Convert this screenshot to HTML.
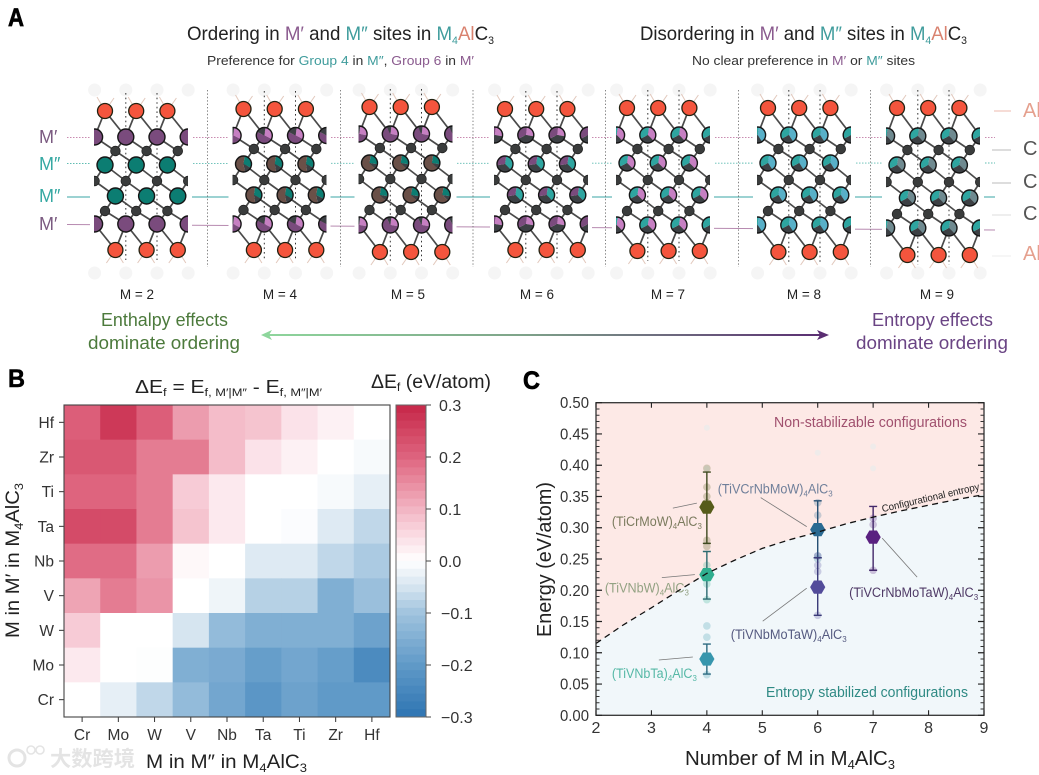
<!DOCTYPE html>
<html><head><meta charset="utf-8"><title>M4AlC3 ordering figure</title>
<style>
html,body{margin:0;padding:0;background:#fff}
svg{display:block}
text{font-family:"Liberation Sans","Noto Sans CJK SC",sans-serif}
</style></head>
<body>
<svg id="fig" xmlns="http://www.w3.org/2000/svg" width="1039" height="775" viewBox="0 0 1039 775">
<defs>
<linearGradient id="arrowGrad" x1="0" x2="1" y1="0" y2="0"><stop offset="0" stop-color="#8ed69c"/><stop offset="0.45" stop-color="#7fa58a"/><stop offset="1" stop-color="#5a2d72"/></linearGradient>
</defs>

<g id="panelA">
<text x="8" y="26" font-size="25" font-weight="bold" fill="#000" stroke="#000" stroke-width="0.7" textLength="16">A</text>
<text x="187" y="40" font-size="19.5" fill="#222" textLength="307">Ordering in <tspan fill="#8a5a8e">M′</tspan> and <tspan fill="#3f9c9c">M″</tspan> sites in <tspan fill="#3f9c9c">M</tspan><tspan fill="#3f9c9c" font-size="11" dy="4">4</tspan><tspan fill="#d9826f" dy="-4">Al</tspan>C<tspan font-size="11" dy="4">3</tspan></text>
<text x="207" y="65" font-size="13" fill="#333" textLength="267">Preference for <tspan fill="#3f9c9c">Group 4</tspan> in <tspan fill="#3f9c9c">M″</tspan>, <tspan fill="#8a5a8e">Group 6</tspan> in <tspan fill="#8a5a8e">M′</tspan></text>
<text x="640" y="40" font-size="19.5" fill="#222" textLength="327">Disordering in <tspan fill="#8a5a8e">M′</tspan> and <tspan fill="#3f9c9c">M″</tspan> sites in <tspan fill="#3f9c9c">M</tspan><tspan fill="#3f9c9c" font-size="11" dy="4">4</tspan><tspan fill="#d9826f" dy="-4">Al</tspan>C<tspan font-size="11" dy="4">3</tspan></text>
<text x="692" y="65" font-size="13" fill="#333" textLength="223">No clear preference in <tspan fill="#8a5a8e">M′</tspan> or <tspan fill="#3f9c9c">M″</tspan> sites</text>

<g>
<line x1="67" x2="995" y1="137.5" y2="137.5" stroke="#c98bb0" stroke-width="0.9" stroke-dasharray="1.5 1.5"/>
<line x1="67" x2="995" y1="163.5" y2="163" stroke="#5fbcb2" stroke-width="0.9" stroke-dasharray="1.5 1.5"/>
<line x1="67" x2="995" y1="197" y2="197" stroke="#3aa5a5" stroke-width="1"/>
<line x1="67" x2="995" y1="224.5" y2="230" stroke="#b78ab0" stroke-width="1"/>
</g>
<g id="crystals"></g>
<g stroke="#777" stroke-width="0.9" stroke-dasharray="1.4 2">
<line x1="207.5" x2="207.5" y1="90" y2="267"/>
<line x1="340.5" x2="340.5" y1="90" y2="267"/>
<line x1="473" x2="473" y1="90" y2="267"/>
<line x1="605.5" x2="605.5" y1="90" y2="267"/>
<line x1="738.5" x2="738.5" y1="90" y2="267"/>
<line x1="870.5" x2="870.5" y1="90" y2="267"/>
</g>
<g font-size="18">
<text x="39" y="143" fill="#7a5a80">M′</text>
<text x="39" y="170" fill="#35a8a2">M″</text>
<text x="39" y="202" fill="#35a8a2">M″</text>
<text x="39" y="230" fill="#7a5a80">M′</text>
</g>
<g font-size="20">
<line x1="994" x2="1011" y1="111" y2="111" stroke="#eeb9ac"/>
<line x1="992" x2="1011" y1="150" y2="150" stroke="#bbb"/>
<line x1="992" x2="1011" y1="183" y2="183" stroke="#bbb"/>
<line x1="992" x2="1011" y1="215" y2="215" stroke="#ddd"/>
<line x1="992" x2="1011" y1="256" y2="256" stroke="#eee"/>
<text x="1023" y="117" fill="#e5a08e">Al</text>
<text x="1023" y="155" fill="#555">C</text>
<text x="1023" y="188" fill="#555">C</text>
<text x="1023" y="220" fill="#555">C</text>
<text x="1023" y="260" fill="#e5a08e">Al</text>
</g>
<g font-size="13.5" fill="#222" text-anchor="middle">
<text x="137" y="299">M = 2</text>
<text x="280" y="299">M = 4</text>
<text x="408" y="299">M = 5</text>
<text x="537" y="299">M = 6</text>
<text x="668" y="299">M = 7</text>
<text x="804" y="299">M = 8</text>
<text x="937" y="299">M = 9</text>
</g>
<text x="101" y="326" font-size="18.5" fill="#4c7a3c" textLength="127">Enthalpy effects</text>
<text x="88" y="349" font-size="18.5" fill="#4c7a3c" textLength="152">dominate ordering</text>
<text x="872" y="326" font-size="18.5" fill="#6a4484" textLength="121">Entropy effects</text>
<text x="856" y="349" font-size="18.5" fill="#6a4484" textLength="152">dominate ordering</text>
<rect x="264" y="334" width="560" height="2" fill="url(#arrowGrad)"/>
<path d="M261 335 L272 330 L269 335 L272 340Z" fill="#8ed69c"/>
<path d="M829 335 L817 330 L820 335 L817 340Z" fill="#5a2d72"/>
</g>

<g id="panelB">
<text x="8" y="387" font-size="25" font-weight="bold" fill="#000" stroke="#000" stroke-width="0.5" textLength="17">B</text>
<text x="135" y="393" font-size="18" fill="#222" textLength="187">ΔE<tspan font-size="11" dy="3">f</tspan><tspan dy="-3"> = E</tspan><tspan font-size="11" dy="3">f, M′|M″</tspan><tspan dy="-3"> - E</tspan><tspan font-size="11" dy="3">f, M″|M′</tspan></text>
<text x="371" y="388" font-size="19" fill="#222" textLength="120">ΔE<tspan font-size="12" dy="3">f</tspan><tspan dy="-3"> (eV/atom)</tspan></text>
<g id="heatmap"></g>
<g id="colorbar"></g>
<text x="146" y="768" font-size="19" fill="#222" textLength="161">M in M″ in M<tspan font-size="12" dy="4">4</tspan><tspan dy="-4">AlC</tspan><tspan font-size="12" dy="4">3</tspan></text>
<text transform="translate(19,638) rotate(-90)" font-size="19" fill="#222" textLength="155">M in M′ in M<tspan font-size="12" dy="4">4</tspan><tspan dy="-4">AlC</tspan><tspan font-size="12" dy="4">3</tspan></text>
</g>

<g id="panelC">
<text x="523" y="389" font-size="25" font-weight="bold" fill="#000" stroke="#000" stroke-width="0.7" textLength="17">C</text>
<g id="stability"></g>
<text x="685" y="765" font-size="20.5" fill="#222" textLength="210">Number of M in M<tspan font-size="13" dy="4">4</tspan><tspan dy="-4">AlC</tspan><tspan font-size="13" dy="4">3</tspan></text>
<text transform="translate(551,637) rotate(-90)" font-size="20.5" fill="#222" textLength="155">Energy (eV/atom)</text>
</g>

<g opacity="0.9">
<circle cx="17" cy="758" r="8" fill="none" stroke="#e2e2e2" stroke-width="3"/>
<circle cx="31" cy="750" r="4" fill="none" stroke="#e2e2e2" stroke-width="1.6"/>
<circle cx="40" cy="750" r="4" fill="none" stroke="#e2e2e2" stroke-width="1.6"/>
<text x="50" y="766" font-size="21" font-weight="bold" fill="#e2e2e2" textLength="85">大数跨境</text>
</g>
</svg>
<script>
var NS='http://www.w3.org/2000/svg';
function mk(tag,attrs,parent,txt){var e=document.createElementNS(NS,tag);for(var k in attrs)e.setAttribute(k,attrs[k]);if(txt!==undefined)e.textContent=txt;parent.appendChild(e);return e;}

/* ---------- Panel B data ---------- */
const heatColumns=['Cr','Mo','W','V','Nb','Ta','Ti','Zr','Hf'];
const heatRows=['Hf','Zr','Ti','Ta','Nb','V','W','Mo','Cr'];
const heatValues=[
[ .21, .27, .21, .13, .09, .08, .04, .02, 0],
[ .22, .22, .17, .17, .09, .04, .02, 0, -.01],
[ .20, .20, .17, .07, .03, 0, 0, -.01, -.03],
[ .24, .24, .17, .08, .03, 0, -.005, -.04, -.07],
[ .19, .19, .13, .01, 0, -.04, -.04, -.07, -.09],
[ .12, .17, .14, 0, -.02, -.08, -.08, -.15, -.11],
[ .07, 0, 0, -.05, -.12, -.15, -.15, -.15, -.18],
[ .03, 0, -.002, -.15, -.16, -.19, -.17, -.19, -.24],
[ 0, -.03, -.07, -.12, -.17, -.21, -.18, -.20, -.20]
];
const colorbarTicks=[0.3,0.2,0.1,0,-0.1,-0.2,-0.3];
const colorbarTickLabels=['0.3','0.2','0.1','0.0','−0.1','−0.2','−0.3'];

/* ---------- Panel C data ---------- */
const curveN=[2,2.5,3,3.5,4,4.5,5,5.5,6,6.5,7,7.5,8,8.5,9];
const curveEnergy=[.115,.145,.172,.2,.227,.248,.267,.281,.293,.306,.317,.327,.336,.345,.353];
const seriesNames=['(TiCrMoW)','(TiVNbW)','(TiVNbTa)','(TiVCrNbMoW)','(TiVNbMoTaW)','(TiVCrNbMoTaW)'];
const seriesCount=[4,4,4,6,6,7];
const seriesMean=[.333,.225,.09,.297,.205,.285];
const seriesLow=[.275,.186,.066,.252,.16,.232];
const seriesHigh=[.389,.262,.114,.343,.252,.334];
const seriesScatter=[[.395,.365,.35,.34,.28,.27],[.24,.21,.185],[.143,.125,.065],[.34,.32,.255,.25],[.255,.24,.23,.16],[.315,.305,.232]];
const faintCount=[4,4,7,7,6];
const faintEnergy=[.46,.395,.43,.395,.42];
const xTickValues=[2,3,4,5,6,7,8,9];
const yTickLabels=['0.00','0.05','0.10','0.15','0.20','0.25','0.30','0.35','0.40','0.45','0.50'];

/* ---------- Styling / layout (not data) ---------- */
const seriesColors=['#565c1a','#2fae8f','#3796ad','#2a6a92','#534c9a','#5a2080'];
const seriesBarColors=['#3f4a20','#2c6a70','#2c6a80','#244e72','#3a3a78','#43286a'];
const seriesTextColors=['#7b7b5e','#93a283','#55b8a6','#6f7f9a','#555a80','#4f3a66'];
const labelLayout=[
{dx:-95,dy:19,w:90,l:[-34,1,-10,-4]},
{dx:-102,dy:18,w:84,l:[-45,3,-12,0]},
{dx:-95,dy:19,w:85,l:[-48,1,-14,-2]},
{dx:-100,dy:-36,w:115,l:[-57,-32,-11,-3]},
{dx:-87,dy:52,w:116,l:[-55,34,-11,1]},
{dx:-24,dy:60,w:129,l:[9,1,44,40]}];

/* ---------- Heatmap ---------- */
(function(){
var g=document.getElementById('heatmap'),cb=document.getElementById('colorbar');
var L=64,R=390,T=405,B=717;
var cw=(R-L)/heatColumns.length,ch=(B-T)/heatRows.length;
function xBand(i){return L+i*cw;}
function yBand(j){return T+j*ch;}
var stops=[[-.3,[46,116,178]],[-.2,[96,154,200]],[-.1,[160,195,222]],[-.05,[214,229,240]],[0,[255,255,255]],[.05,[250,219,227]],[.1,[242,180,194]],[.2,[222,100,126]],[.3,[198,38,72]]];
function color(v){v=Math.max(-.3,Math.min(.3,v));for(var i=0;i<stops.length-1;i++){var a=stops[i],b=stops[i+1];if(v<=b[0]){var t=(v-a[0])/(b[0]-a[0]);return 'rgb('+[0,1,2].map(function(c){return Math.round(a[1][c]+t*(b[1][c]-a[1][c]));}).join(',')+')';}}return 'rgb(198,38,72)';}
heatRows.forEach(function(r,j){
  heatColumns.forEach(function(c,i){
    var cell=mk('rect',{x:xBand(i),y:yBand(j),width:cw+0.4,height:ch+0.4,fill:color(heatValues[j][i])},g);
    
    
  });
  var tk=mk('line',{x1:L-5,x2:L,y1:yBand(j)+ch/2,y2:yBand(j)+ch/2,stroke:'#333','stroke-width':1},g);
  
  
  var tl=mk('text',{x:54,y:yBand(j)+ch/2+5.5,'text-anchor':'end','font-size':15.5,fill:'#333'},g,r);
  
  
});
heatColumns.forEach(function(c,i){
  var tk=mk('line',{x1:xBand(i)+cw/2,x2:xBand(i)+cw/2,y1:B,y2:B+5,stroke:'#333','stroke-width':1},g);
  
  
  var tl=mk('text',{x:xBand(i)+cw/2,y:740,'text-anchor':'middle','font-size':15.5,fill:'#333'},g,c);
  
  
});
var frame=mk('rect',{x:L,y:T,width:R-L,height:B-T,fill:'none',stroke:'#444','stroke-width':1.1},g);


var cL=396,cR=426,n=40;
function yCb(v){return T+(0.3-v)/0.6*(B-T);}
for(var k=0;k<n;k++){
  var v=0.3-(k+0.5)*0.6/n;
  var s=mk('rect',{x:cL,y:T+k*(B-T)/n,width:cR-cL,height:(B-T)/n+0.4,fill:color(v)},cb);
  
  
}
var cf=mk('rect',{x:cL,y:T,width:cR-cL,height:B-T,fill:'none',stroke:'#666','stroke-width':1},cb);


colorbarTicks.forEach(function(v,i){
  var tk=mk('line',{x1:cR,x2:cR+5,y1:yCb(v),y2:yCb(v),stroke:'#444','stroke-width':1},cb);
  
  
  var tl=mk('text',{x:v<0?441:439,y:yCb(v)+6,'font-size':16,fill:'#333'},cb,colorbarTickLabels[i]);
  
  
});
})();

/* ---------- Stability chart ---------- */
(function(){
var g=document.getElementById('stability');
var L=596,R=984,T=402.7,B=715.3;
function x(n){return L+(n-2)/7*(R-L);}
function y(e){return B-e/0.5*(B-T);}
var curvePts=curveN.map(function(n,i){return x(n)+','+y(curveEnergy[i]);});
var pink=mk('polygon',{points:L+','+T+' '+R+','+T+' '+curvePts.slice().reverse().join(' '),fill:'#fde9e6'},g);


var blue=mk('polygon',{points:curvePts.join(' ')+' '+R+','+B+' '+L+','+B,fill:'#f1f7fa'},g);


var reg1=mk('text',{x:774,y:427,'font-size':14.5,fill:'#a0506e',textLength:193},g,'Non-stabilizable configurations');


var reg2=mk('text',{x:766,y:697,'font-size':14.5,fill:'#2f8a84',textLength:202},g,'Entropy stabilized configurations');


faintCount.forEach(function(n,i){
  var c=mk('circle',{cx:x(n),cy:y(faintEnergy[i]),r:3,fill:'#e6ecec',opacity:0.6},g);
  
  
});
seriesNames.forEach(function(name,i){
  var cx=x(seriesCount[i]),cy=y(seriesMean[i]),col=seriesColors[i],lay=labelLayout[i];
  seriesScatter[i].forEach(function(e){
    var p=mk('circle',{cx:cx,cy:y(e),r:3.8,fill:col,opacity:0.25},g);
    
    
  });
  var bar=mk('path',{d:'M'+(cx-4)+' '+y(seriesHigh[i])+'H'+(cx+4)+'M'+cx+' '+y(seriesHigh[i])+'V'+y(seriesLow[i])+'M'+(cx-4)+' '+y(seriesLow[i])+'H'+(cx+4),stroke:seriesBarColors[i],'stroke-width':1.4,fill:'none'},g);
  
  
  var hex=[];
  for(var a=0;a<6;a++){hex.push((cx+7.6*Math.cos(a*Math.PI/3))+','+(cy+7.6*Math.sin(a*Math.PI/3)));}
  var m=mk('polygon',{points:hex.join(' '),fill:col},g);
  
  
  var ld=mk('line',{x1:cx+lay.l[0],y1:cy+lay.l[1],x2:cx+lay.l[2],y2:cy+lay.l[3],stroke:'#777','stroke-width':0.8},g);
  
  
  var t=mk('text',{x:cx+lay.dx,y:cy+lay.dy,'font-size':13.5,fill:seriesTextColors[i],textLength:lay.w},g);
  
  
  t.appendChild(document.createTextNode(name));
  mk('tspan',{'font-size':8.5,dy:3},t,'4');
  mk('tspan',{dy:-3},t,'AlC');
  mk('tspan',{'font-size':8.5,dy:3},t,'3');
});
var curve=mk('polyline',{points:curvePts.join(' '),fill:'none',stroke:'#111','stroke-width':1.3,'stroke-dasharray':'6 4.5'},g);


var cl=mk('text',{transform:'translate('+x(7.17)+','+y(.325)+') rotate(-13)','font-size':10,fill:'#222',textLength:100},g,'Configurational entropy');


var fr=mk('rect',{x:L,y:T,width:R-L,height:B-T,fill:'none',stroke:'#333','stroke-width':1.3},g);


xTickValues.forEach(function(n){
  var tk=mk('path',{d:'M'+x(n)+' '+B+'v-5M'+x(n)+' '+T+'v5',stroke:'#222','stroke-width':1.1},g);
  
  
  var tl=mk('text',{x:x(n),y:733,'text-anchor':'middle','font-size':16,fill:'#333'},g,String(n));
  
  
});
yTickLabels.forEach(function(lbl){
  var e=parseFloat(lbl);
  var tk=mk('path',{d:'M'+L+' '+y(e)+'h6M'+R+' '+y(e)+'h-6',stroke:'#222','stroke-width':1.2},g);
  
  
  var tl=mk('text',{x:560,y:y(e)+5.5,'font-size':16,fill:'#333',textLength:29},g,lbl);
  
  
  for(var k=1;k<5&&e<0.5;k++){
    var mn=mk('path',{d:'M'+L+' '+y(e+k*0.01)+'h3.5M'+R+' '+y(e+k*0.01)+'h-3.5',stroke:'#333','stroke-width':1},g);
    
    
  }
});
})();

/* ---------- Crystal structures ---------- */
(function(){
var host=document.getElementById('crystals');
var P={pu:'#7a4b7d',te:'#0c7d72',pk:'#c67fc2',dk:'#3c4044',br:'#6a5048',tl:'#2ea5a0',lb:'#58b0c8',gy:'#6f8a90',lp:'#dc9ad6'};
var crystals=[
 {m:2,x0:105,y:[111,137,151,165,181,196,211,224,250],a:[[P.pu,1]],b:[[P.te,1]]},
 {m:4,x0:243.5,y:[109,135.5,149,164,180,195,210,224,250],a:[[P.pk,.3],[P.pu,.5],[P.dk,.2]],b:[[P.te,.3],[P.dk,.15],[P.br,.55]]},
 {m:5,x0:369.5,y:[107,134,148,163,179,195,210,225,252],a:[[P.pk,.25],[P.pu,.65],[P.dk,.1]],b:[[P.te,.25],[P.dk,.1],[P.br,.65]]},
 {m:6,x0:505,y:[109,135,149,164,180,195,210,224,250],a:[[P.pk,.25],[P.dk,.4],[P.pu,.35]],b:[[P.tl,.35],[P.dk,.35],[P.pu,.3]]},
 {m:7,x0:627,y:[108,135,149,163,180,195,211,225,251],a:[[P.pk,.35],[P.dk,.3],[P.tl,.35]],b:[[P.pk,.35],[P.dk,.3],[P.tl,.35]]},
 {m:8,x0:768,y:[108,135,149,163,180,195,211,225,252],a:[[P.lb,.38],[P.dk,.27],[P.tl,.35]],b:[[P.lb,.38],[P.dk,.27],[P.tl,.35]]},
 {m:9,x0:897,y:[108,136,150,165,182,198,214,228,255],a:[[P.gy,.35],[P.dk,.3],[P.tl,.35]],b:[[P.gy,.35],[P.dk,.3],[P.tl,.35]]}
];
var offs=[[0,1,2],[-1/3,2/3,5/3,8/3],[1/3,4/3,7/3],[0,1,2],[-1/3,2/3,5/3,8/3],[1/3,4/3,7/3],[0,1,2],[-1/3,2/3,5/3,8/3],[1/3,4/3,7/3]];
var types=['Al','Mp','C','Mpp','C','Mpp','C','Mp','Al'];
function sector(parent,cx,cy,r,slices){
  var start=-Math.PI/2+0.15;
  if(slices.length===1){mk('circle',{cx:cx,cy:cy,r:r,fill:slices[0][0]},parent);return;}
  slices.forEach(function(s){
    var end=start+s[1]*2*Math.PI,la=s[1]>.5?1:0;
    mk('path',{d:'M'+cx+' '+cy+'L'+(cx+r*Math.cos(start))+' '+(cy+r*Math.sin(start))+'A'+r+' '+r+' 0 '+la+' 1 '+(cx+r*Math.cos(end))+' '+(cy+r*Math.sin(end))+'Z',fill:s[0]},parent);
    start=end;
  });
}
crystals.forEach(function(c){
  var s=31.2,x0=c.x0,left=x0-11,right=x0+83;
  var g=mk('g',{},host);
  
  
  var bg=mk('rect',{x:left-4,y:85,width:right-left+8,height:195,fill:'#fff'},g);
  
  
  [0,1,2,3].forEach(function(i){
    var gt=mk('circle',{cx:x0+(i-1/3)*s,cy:90,r:6.5,fill:'#f5f5f5'},g);
    
    
    var gb=mk('circle',{cx:x0+(i-1/3)*s,cy:273,r:6.5,fill:'#f5f5f5'},g);
    
    
  });
  var clipId='clip'+c.m;
  var cp=mk('clipPath',{id:clipId},g);
  mk('rect',{x:left,y:85,width:right-left,height:195},cp);
  var inner=mk('g',{'clip-path':'url(#'+clipId+')'},g);
  
  
  [2/3,5/3].forEach(function(o){
    var dl=mk('line',{x1:x0+o*s,x2:x0+o*s,y1:c.y[0]-18,y2:c.y[8]+10,stroke:'#333','stroke-width':1,'stroke-dasharray':'1.6 3'},inner);
    
    
  });
  offs[0].forEach(function(o){
    var st=mk('path',{d:'M'+(x0+o*s)+' '+c.y[0]+'l-8 -14M'+(x0+o*s)+' '+c.y[0]+'l9 -13',stroke:'#e2c8bc','stroke-width':1,fill:'none'},inner);
    
    
  });
  offs[8].forEach(function(o){
    var st=mk('path',{d:'M'+(x0+o*s)+' '+c.y[8]+'l-9 13M'+(x0+o*s)+' '+c.y[8]+'l8 13',stroke:'#e2c8bc','stroke-width':1,fill:'none'},inner);
    
    
  });
  for(var r=0;r<8;r++){
    offs[r].forEach(function(o1){
      offs[r+1].forEach(function(o2){
        var d=o2-o1;
        if(Math.abs(d-2/3)<.01||Math.abs(d+1/3)<.01){
          var b=mk('line',{x1:x0+o1*s,y1:c.y[r],x2:x0+o2*s,y2:c.y[r+1],stroke:'#4a4a4a','stroke-width':1.7},inner);
          
          
        }
      });
    });
  }
  offs.forEach(function(row,ri){
    var t=types[ri];
    row.forEach(function(o){
      var cx=x0+o*s,cy=c.y[ri],atom;
      if(t==='Al'){
        atom=mk('circle',{cx:cx,cy:cy,r:7.5,fill:'#f4553d',stroke:'#221',"stroke-width":1.3},inner);
        
      }else if(t==='C'){
        atom=mk('circle',{cx:cx,cy:cy,r:4.8,fill:'#3a3c3c',stroke:'#222',"stroke-width":.8},inner);
        
      }else{
        atom=mk('g',{},inner);
        
        sector(atom,cx,cy,8,t==='Mp'?c.a:c.b);
        mk('circle',{cx:cx,cy:cy,r:8,fill:'none',stroke:'#151515','stroke-width':1.4},atom);
      }
      
    });
  });
});
})();

/* Stretch glyphs (not just gaps) when fitting text to its measured width */
Array.prototype.forEach.call(document.querySelectorAll('text'),function(t){
  if(t.getAttribute('textLength')){t.setAttribute('lengthAdjust','spacingAndGlyphs');}
});
</script>
</body></html>
